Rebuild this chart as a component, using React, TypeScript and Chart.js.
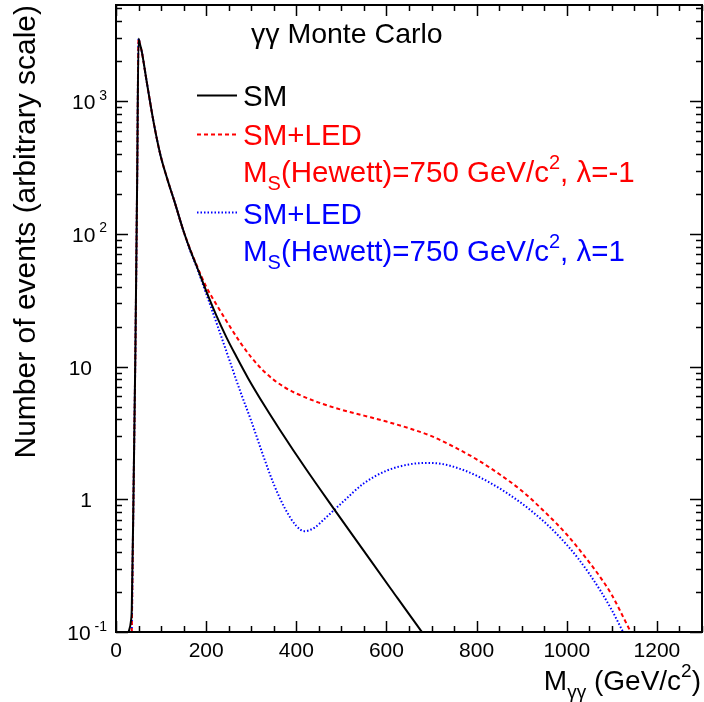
import React, { useEffect, useRef } from "react";
import { Chart, registerables } from "chart.js";
Chart.register(...registerables);

const FONT = '"Liberation Sans", Arial, Helvetica, sans-serif';

// SM
const smMass = [28, 33, 35, 39, 43, 47, 50, 53, 57, 68, 83, 98, 113, 130, 149, 165, 179, 200, 223, 245, 267, 293, 330, 363, 420, 481, 547, 610, 676, 690];
const smEvents = [0.1, 0.12, 0.15, 1.2, 13, 270, 2950, 2700, 2380, 1410, 707, 400, 264, 174, 107, 75, 57, 37.2, 24.1, 16.6, 11.9, 8.18, 5.04, 3.36, 1.72, 0.869, 0.421, 0.211, 0.103, 0.089];

// SM+LED, lambda = -1
const ledMinusMass = [35, 39, 43, 47, 50, 53, 57, 68, 83, 98, 113, 130, 149, 165, 179, 200, 225, 250, 275, 300, 325, 350, 375, 400, 450, 500, 550, 600, 650, 700, 750, 800, 850, 900, 950, 1000, 1050, 1075, 1100, 1125, 1150];
const ledMinusEvents = [0.1, 1.2, 13, 270, 2950, 2700, 2380, 1410, 707, 400, 264, 174, 107, 76, 58, 40, 28.5, 20.7, 15.3, 11.75, 9.44, 7.94, 6.95, 6.27, 5.35, 4.73, 4.27, 3.85, 3.43, 2.99, 2.48, 2.0, 1.55, 1.16, 0.81, 0.543, 0.335, 0.257, 0.19, 0.13, 0.088];

// SM+LED, lambda = 1
const ledPlusMass = [35, 39, 43, 47, 50, 53, 57, 68, 83, 98, 113, 130, 149, 165, 179, 200, 225, 250, 275, 300, 325, 350, 375, 400, 418, 440, 465, 500, 550, 600, 650, 690, 725, 775, 825, 875, 925, 975, 1025, 1075, 1100, 1125, 1140];
const ledPlusEvents = [0.1, 1.2, 13, 270, 2950, 2700, 2380, 1410, 707, 400, 264, 174, 107, 74, 56, 35.5, 20.4, 11.6, 6.6, 3.89, 2.21, 1.3, 0.851, 0.63, 0.575, 0.61, 0.724, 0.933, 1.32, 1.64, 1.83, 1.88, 1.84, 1.64, 1.36, 1.07, 0.8, 0.56, 0.359, 0.204, 0.146, 0.1, 0.08];

const xMajorTicks = [0, 200, 400, 600, 800, 1000, 1200];
const yDecadeValues = [0.1, 1, 10, 100, 1000];
const yDecadeLabels: [string, string][] = [["10", "-1"], ["1", ""], ["10", ""], ["10", "2"], ["10", "3"]];

const X_MIN = 0, X_MAX = 1300, Y_MIN = 0.1, Y_MAX = 5300;

type Part = [string, "n" | "sub" | "sup"];

function richWidth(ctx: CanvasRenderingContext2D, parts: Part[], size: number) {
  let w = 0;
  for (const [t, k] of parts) {
    ctx.font = `${k === "n" ? size : Math.round(size * 0.68)}px ${FONT}`;
    w += ctx.measureText(t).width;
  }
  return w;
}

function drawRich(ctx: CanvasRenderingContext2D, parts: Part[], x: number, y: number, size: number, color: string) {
  ctx.fillStyle = color;
  ctx.textAlign = "left";
  ctx.textBaseline = "alphabetic";
  let cx = x;
  for (const [t, k] of parts) {
    const s = k === "n" ? size : Math.round(size * 0.68);
    ctx.font = `${s}px ${FONT}`;
    const dy = k === "sub" ? size * 0.28 : k === "sup" ? -size * 0.45 : 0;
    ctx.fillText(t, cx, y + dy);
    cx += ctx.measureText(t).width;
  }
  return cx - x;
}

const decoPlugin = {
  id: "deco",
  afterDraw(chart: any) {
    const ctx: CanvasRenderingContext2D = chart.ctx;
    const { left, right, top, bottom } = chart.chartArea;
    const xs = chart.scales.x;
    const ys = chart.scales.y;
    ctx.save();
    ctx.strokeStyle = "#000";
    ctx.lineWidth = 1.5;
    ctx.beginPath();
    for (let v = X_MIN; v <= X_MAX; v += 50) {
      const px = Math.round(xs.getPixelForValue(v)) + 0.5;
      const len = v % 200 === 0 ? 11 : 6;
      ctx.moveTo(px, bottom);
      ctx.lineTo(px, bottom - len);
      ctx.moveTo(px, top);
      ctx.lineTo(px, top + len);
    }
    for (const d of yDecadeValues) {
      for (let k = 1; k <= 9; k++) {
        const v = d * k;
        if (v > Y_MAX * 1.0001) continue;
        const py = Math.round(ys.getPixelForValue(v)) + 0.5;
        const len = k === 1 ? 12 : 6;
        ctx.moveTo(left, py);
        ctx.lineTo(left + len, py);
        ctx.moveTo(right, py);
        ctx.lineTo(right - len, py);
      }
    }
    ctx.stroke();
    ctx.lineWidth = 2;
    ctx.strokeRect(left, top, right - left, bottom - top);

    ctx.fillStyle = "#000";
    ctx.font = `21px ${FONT}`;
    ctx.textAlign = "center";
    ctx.textBaseline = "alphabetic";
    for (const v of xMajorTicks) {
      ctx.fillText(String(v), xs.getPixelForValue(v), 657);
    }
    yDecadeValues.forEach((v, i) => {
      const [base, sup] = yDecadeLabels[i];
      const py = ys.getPixelForValue(v);
      const parts: Part[] = sup ? [[base, "n"], [" " + sup, "sup"]] : [[base, "n"]];
      const w = richWidth(ctx, parts, 21);
      const rightEdge = sup ? 107 : 92;
      drawRich(ctx, parts, rightEdge - w, py + 8, 21, "#000");
    });

    ctx.save();
    ctx.translate(35, top);
    ctx.rotate(-Math.PI / 2);
    ctx.font = `30px ${FONT}`;
    ctx.fillStyle = "#000";
    ctx.textAlign = "right";
    ctx.textBaseline = "alphabetic";
    ctx.fillText("Number of events (arbitrary scale)", 0, 0);
    ctx.restore();

    const xt: Part[] = [["M", "n"], ["γγ", "sub"], [" (GeV/c", "n"], ["2", "sup"], [")", "n"]];
    const xtw = richWidth(ctx, xt, 28);
    drawRich(ctx, xt, 701 - xtw, 690, 28, "#000");

    drawRich(ctx, [["γγ Monte Carlo", "n"]], 251, 43, 28.5, "#000");

    const lx0 = 197, lx1 = 237, tx = 243, fs = 29.5;
    ctx.lineWidth = 1.8;
    ctx.strokeStyle = "#000";
    ctx.setLineDash([]);
    ctx.beginPath(); ctx.moveTo(lx0, 95.5); ctx.lineTo(lx1, 95.5); ctx.stroke();
    drawRich(ctx, [["SM", "n"]], tx, 106, fs, "#000");

    ctx.strokeStyle = "#ff0000";
    ctx.setLineDash([4, 3]);
    ctx.beginPath(); ctx.moveTo(lx0, 134.5); ctx.lineTo(lx1, 134.5); ctx.stroke();
    drawRich(ctx, [["SM+LED", "n"]], tx, 145, fs, "#ff0000");
    drawRich(ctx, [["M", "n"], ["S", "sub"], ["(Hewett)=750 GeV/c", "n"], ["2", "sup"], [", λ=-1", "n"]], tx, 182, fs, "#ff0000");

    ctx.strokeStyle = "#0000ff";
    ctx.setLineDash([1.5, 2]);
    ctx.beginPath(); ctx.moveTo(lx0, 212.5); ctx.lineTo(lx1, 212.5); ctx.stroke();
    drawRich(ctx, [["SM+LED", "n"]], tx, 224, fs, "#0000ff");
    drawRich(ctx, [["M", "n"], ["S", "sub"], ["(Hewett)=750 GeV/c", "n"], ["2", "sup"], [", λ=1", "n"]], tx, 261, fs, "#0000ff");
    ctx.setLineDash([]);
    ctx.restore();
  },
};

function toPoints(xs: number[], ys: number[]) {
  return xs.map((x, i) => ({ x, y: ys[i] }));
}

export default function App() {
  const ref = useRef<HTMLCanvasElement>(null);
  useEffect(() => {
    if (!ref.current) return;
    const chart = new Chart(ref.current, {
      type: "line",
      data: {
        datasets: [
          {
            label: "SM",
            data: toPoints(smMass, smEvents),
            borderColor: "#000000",
            borderWidth: 2,
            pointRadius: 0,
            fill: false,
            cubicInterpolationMode: "monotone",
          },
          {
            label: "SM+LED λ=-1",
            data: toPoints(ledMinusMass, ledMinusEvents),
            borderColor: "#ff0000",
            borderWidth: 2,
            borderDash: [4, 3],
            pointRadius: 0,
            fill: false,
            cubicInterpolationMode: "monotone",
          },
          {
            label: "SM+LED λ=1",
            data: toPoints(ledPlusMass, ledPlusEvents),
            borderColor: "#0000ff",
            borderWidth: 2,
            borderDash: [1.5, 2],
            pointRadius: 0,
            fill: false,
            cubicInterpolationMode: "monotone",
          },
        ],
      },
      options: {
        animation: false,
        responsive: false,
        devicePixelRatio: 1,
        layout: { padding: { left: 116, right: 2, top: 5, bottom: 70 } },
        plugins: { legend: { display: false }, tooltip: { enabled: false } },
        scales: {
          x: { type: "linear", min: X_MIN, max: X_MAX, display: false },
          y: { type: "logarithmic", min: Y_MIN, max: Y_MAX, display: false },
        },
      },
      plugins: [decoPlugin],
    } as any);
    return () => chart.destroy();
  }, []);
  return (
    <div style={{ position: "fixed", left: 0, top: 0, width: 704, height: 702, background: "#fff" }}>
      <canvas ref={ref} width={704} height={702} style={{ display: "block" }} />
    </div>
  );
}
